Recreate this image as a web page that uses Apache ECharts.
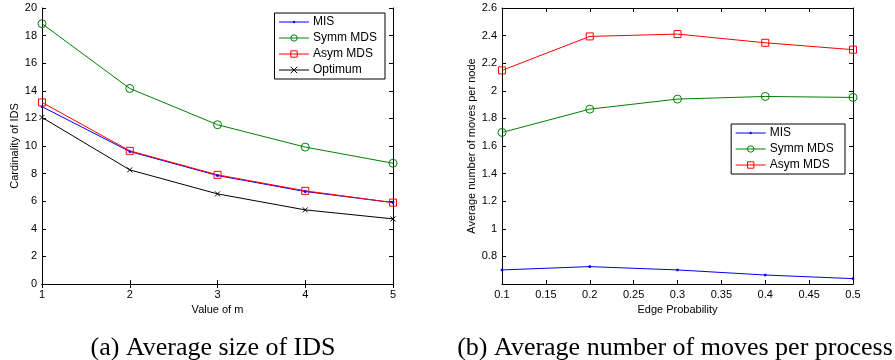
<!DOCTYPE html>
<html><head><meta charset="utf-8">
<script src="https://cdn.jsdelivr.net/npm/echarts@6/dist/echarts.min.js"></script>
<style>html,body{margin:0;padding:0;background:#fff}#c{width:895px;height:360px}</style>
</head><body><div id="c"></div>
<script>
// Left chart data
const mValues = [1, 2, 3, 4, 5];
const idsMIS = [12.85, 9.6, 7.86, 6.7, 5.9];
const idsSymm = [18.86, 14.17, 11.54, 9.92, 8.75];
const idsAsym = [13.16, 9.65, 7.91, 6.75, 5.9];
const idsOpt = [12.07, 8.27, 6.53, 5.37, 4.72];
// Right chart data
const edgeProb = [0.1, 0.2, 0.3, 0.4, 0.5];
const movesMIS = [0.702, 0.726, 0.702, 0.665, 0.639];
const movesSymm = [1.698, 1.867, 1.940, 1.959, 1.952];
const movesAsym = [2.148, 2.394, 2.411, 2.348, 2.298];
const captions = ['(a) Average size of IDS', '(b) Average number of moves per process'];

const pair = (xs, ys) => xs.map((x, i) => [x, ys[i]]);
const F = 'Liberation Sans, Arial, sans-serif';
const xMarker = 'path://M0,0L10,10M10,0L0,10';
const dotMarker = 'path://M0,0M10,10M4,4L6,4L6,6L4,6Z';

function mainAxis(extra) {
  return Object.assign({
    axisLine: {show: true, lineStyle: {color: '#000', width: 1}},
    axisTick: {show: true, inside: true, length: 4, lineStyle: {color: '#000'}},
    axisLabel: {color: '#000', fontSize: 11, fontFamily: F, margin: 5},
    splitLine: {show: false}
  }, extra);
}
function mirrorAxis(extra) {
  return Object.assign({
    axisLine: {show: true, lineStyle: {color: '#000', width: 1}},
    axisTick: {show: true, inside: true, length: 4, lineStyle: {color: '#000'}},
    axisLabel: {show: false},
    splitLine: {show: false}
  }, extra);
}
const fmt2 = v => String(parseFloat(v.toFixed(2)));

function lineSeries(name, color, symbol, size, data, xi, yi, filled) {
  return {
    name, type: 'line', data, xAxisIndex: xi, yAxisIndex: yi,
    symbol, symbolSize: size, showSymbol: true,
    lineStyle: {color, width: 1},
    itemStyle: {color: filled ? color : 'rgba(0,0,0,0)', borderColor: color, borderWidth: 1},
    emphasis: {disabled: true},
    animation: false, z: 3
  };
}

const legendBase = {
  orient: 'vertical',
  itemWidth: 30, itemHeight: 8, itemGap: 4,
  padding: [3, 8, 3, 4],
  borderColor: '#000', borderWidth: 1, backgroundColor: '#fff',
  lineStyle: {width: 1},
  itemStyle: {borderWidth: 1},
  textStyle: {color: '#000', fontSize: 12, fontFamily: F, padding: [0, 0, 0, -1]},
  selectedMode: false
};

const capStyle = {fontFamily: 'Liberation Serif, DejaVu Serif, serif', fontWeight: 'normal', fontSize: 26, color: '#000'};

const chart = echarts.init(document.getElementById('c'), null, {renderer: 'canvas'});
chart.setOption({
  animation: false,
  backgroundColor: '#fff',
  grid: [
    {left: 42, top: 8, width: 351, height: 276},
    {left: 502, top: 8, width: 351, height: 276}
  ],
  xAxis: [
    mainAxis({type: 'value', gridIndex: 0, min: 1, max: 5, interval: 1, position: 'bottom',
      name: 'Value of m', nameLocation: 'middle', nameGap: 17,
      nameTextStyle: {color: '#000', fontSize: 11, fontFamily: F}}),
    mirrorAxis({type: 'value', gridIndex: 0, min: 1, max: 5, interval: 1, position: 'top'}),
    mainAxis({type: 'value', gridIndex: 1, min: 0.1, max: 0.5, interval: 0.05, position: 'bottom',
      axisLabel: {color: '#000', fontSize: 11, fontFamily: F, margin: 5, formatter: fmt2},
      name: 'Edge Probability', nameLocation: 'middle', nameGap: 17,
      nameTextStyle: {color: '#000', fontSize: 11, fontFamily: F}}),
    mirrorAxis({type: 'value', gridIndex: 1, min: 0.1, max: 0.5, interval: 0.05, position: 'top'})
  ],
  yAxis: [
    mainAxis({type: 'value', gridIndex: 0, min: 0, max: 20, interval: 2, position: 'left',
      name: 'Cardinality of IDS', nameLocation: 'middle', nameGap: 20,
      nameTextStyle: {color: '#000', fontSize: 11, fontFamily: F}}),
    mirrorAxis({type: 'value', gridIndex: 0, min: 0, max: 20, interval: 2, position: 'right'}),
    mainAxis({type: 'value', gridIndex: 1, min: 0.6, max: 2.6, interval: 0.2, position: 'left',
      axisLabel: {color: '#000', fontSize: 11, fontFamily: F, margin: 5,
        formatter: v => (Math.abs(v - 0.6) < 1e-6 ? '' : fmt2(v))},
      name: 'Average number of moves per node', nameLocation: 'middle', nameGap: 22,
      nameTextStyle: {color: '#000', fontSize: 11, fontFamily: F}}),
    mirrorAxis({type: 'value', gridIndex: 1, min: 0.6, max: 2.6, interval: 0.2, position: 'right'})
  ],
  legend: [
    Object.assign({}, legendBase, {
      data: ['MIS', 'Symm MDS', 'Asym MDS', 'Optimum'],
      right: 510, top: 13
    }),
    Object.assign({}, legendBase, {
      data: ['MIS ', 'Symm MDS ', 'Asym MDS '],
      right: 50, top: 124
    })
  ],
  title: [
    {text: captions[0], left: 208, top: 330, textAlign: 'center', textStyle: capStyle},
    {text: captions[1], left: 670, top: 330, textAlign: 'center', textStyle: capStyle}
  ],
  series: [
    lineSeries('MIS', '#0000ff', dotMarker, 8, pair(mValues, idsMIS), 0, 0, true),
    lineSeries('Symm MDS', '#008000', 'circle', 8, pair(mValues, idsSymm), 0, 0, false),
    lineSeries('Asym MDS', '#ff0000', 'rect', 7, pair(mValues, idsAsym), 0, 0, false),
    lineSeries('Optimum', '#000000', xMarker, 5, pair(mValues, idsOpt), 0, 0, false),
    lineSeries('MIS ', '#0000ff', dotMarker, 8, pair(edgeProb, movesMIS), 2, 2, true),
    lineSeries('Symm MDS ', '#008000', 'circle', 8, pair(edgeProb, movesSymm), 2, 2, false),
    lineSeries('Asym MDS ', '#ff0000', 'rect', 7, pair(edgeProb, movesAsym), 2, 2, false)
  ]
});
</script></body></html>
